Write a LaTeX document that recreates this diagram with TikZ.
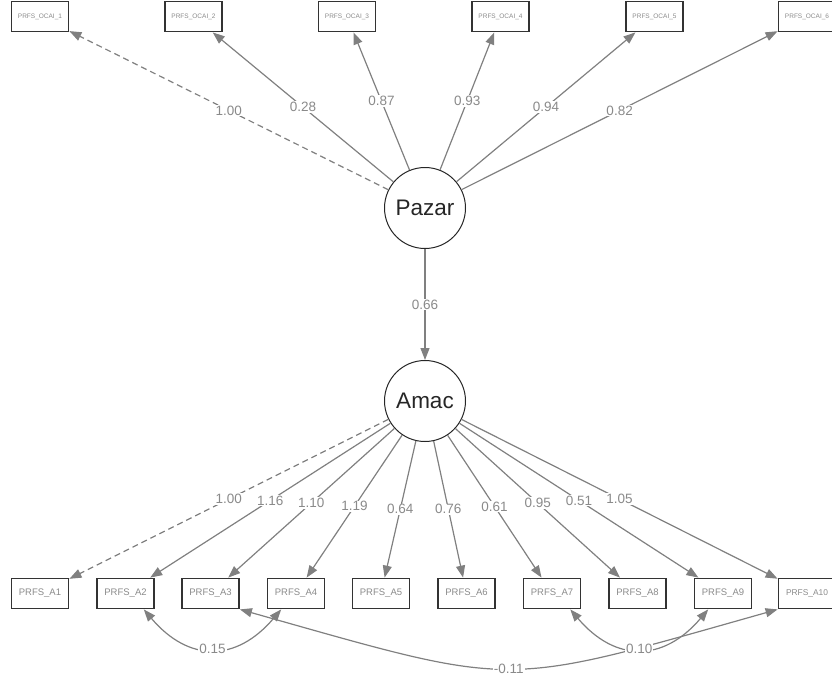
\documentclass[tikz,border=0pt]{standalone}
\usepackage{fontspec}
\setmainfont{Liberation Sans}
\usetikzlibrary{arrows.meta}
\definecolor{edgegray}{HTML}{808080}
\definecolor{lblgray}{HTML}{8A8A8A}
\definecolor{boxline}{HTML}{333333}
\tikzset{
  lat/.style={circle, draw=black!85, line width=1pt, minimum size=81pt, inner sep=0pt,
    font=\fontsize{22.5}{24}\selectfont, text=black!85},
  obs/.style={rectangle, draw=boxline, line width=1.8pt, minimum width=57pt, minimum height=30pt,
    inner sep=0pt, text=lblgray},
  topobs/.style={obs, font=\fontsize{6.5}{7}\selectfont},
  botobs/.style={obs, font=\fontsize{9.5}{10}\selectfont},
  lastobs/.style={obs, font=\fontsize{8.4}{9}\selectfont},
  ldg/.style={draw=edgegray, line width=1.2pt, -{Triangle[length=12pt,width=9pt]}},
  ldgd/.style={ldg, dash pattern=on 6pt off 4pt},
  cov/.style={draw=edgegray, line width=1.2pt, {Triangle[length=12pt,width=9pt]}-{Triangle[length=12pt,width=9pt]}},
  lbl/.style={fill=white, inner sep=1pt, text=lblgray, font=\fontsize{13.5}{14}\selectfont},
}
\begin{document}
\begin{tikzpicture}[x=1pt, y=-1pt]
\useasboundingbox (0,0) rectangle (832,677);
% latent variables
\node[lat] (P) at (425,208) {Pazar};
\node[lat] (A) at (425,401) {Amac};
% top indicators
\node[topobs] (O1) at (40,16.5) {PRFS\_OCAI\_1};
\node[topobs] (O2) at (193.5,16.5) {PRFS\_OCAI\_2};
\node[topobs] (O3) at (347,16.5) {PRFS\_OCAI\_3};
\node[topobs] (O4) at (500.5,16.5) {PRFS\_OCAI\_4};
\node[topobs] (O5) at (654.5,16.5) {PRFS\_OCAI\_5};
\node[topobs] (O6) at (807,16.5) {PRFS\_OCAI\_6};
% bottom indicators
\node[botobs] (A1) at (40,593.5) {PRFS\_A1};
\node[botobs] (A2) at (125.5,593.5) {PRFS\_A2};
\node[botobs] (A3) at (210.5,593.5) {PRFS\_A3};
\node[botobs] (A4) at (296,593.5) {PRFS\_A4};
\node[botobs] (A5) at (381,593.5) {PRFS\_A5};
\node[botobs] (A6) at (466.5,593.5) {PRFS\_A6};
\node[botobs] (A7) at (552,593.5) {PRFS\_A7};
\node[botobs] (A8) at (637.5,593.5) {PRFS\_A8};
\node[botobs] (A9) at (723,593.5) {PRFS\_A9};
\node[lastobs] (A10) at (807,593.5) {PRFS\_A10};
% loadings Pazar
\draw[ldgd] (P) -- node[lbl] (lo1) {1.00} (O1);
\draw[ldg] (P) -- node[lbl] (lo2) {0.28} (O2);
\draw[ldg] (P) -- node[lbl] (lo3) {0.87} (O3);
\draw[ldg] (P) -- node[lbl] (lo4) {0.93} (O4);
\draw[ldg] (P) -- node[lbl] (lo5) {0.94} (O5);
\draw[ldg] (P) -- node[lbl] (lo6) {0.82} (O6);
% regression
\draw[ldg] (P) -- node[lbl] (lr) {0.66} (A);
% loadings Amac
\draw[ldgd] (A) -- node[lbl] (la1) {1.00} (A1);
\draw[ldg] (A) -- node[lbl] (la2) {1.16} (A2);
\draw[ldg] (A) -- node[lbl] (la3) {1.10} (A3);
\draw[ldg] (A) -- node[lbl] (la4) {1.19} (A4);
\draw[ldg] (A) -- node[lbl] (la5) {0.64} (A5);
\draw[ldg] (A) -- node[lbl] (la6) {0.76} (A6);
\draw[ldg] (A) -- node[lbl] (la7) {0.61} (A7);
\draw[ldg] (A) -- node[lbl] (la8) {0.95} (A8);
\draw[ldg] (A) -- node[lbl] (la9) {0.51} (A9);
\draw[ldg] (A) -- node[lbl] (la10) {1.05} (A10);
% covariances
\draw[cov] (A3.south east) .. controls +(280,79) and +(-280,79) .. node[lbl] (c310) {-0.11} (A10.south west);
\draw[cov] (A2.-41) .. controls +(45,53) and +(-45,53) .. node[lbl] (c24) {0.15} (A4.-133);
\draw[cov] (A7.-41) .. controls +(45,53) and +(-45,53) .. node[lbl] (c79) {0.10} (A9.-133);
\end{tikzpicture}
\end{document}
